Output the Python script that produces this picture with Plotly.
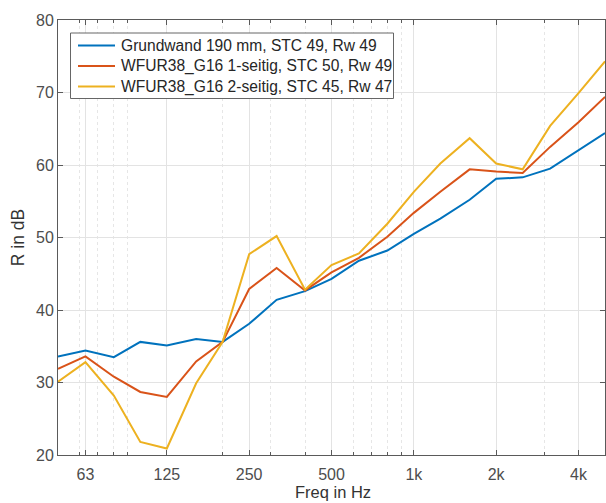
import numpy as np
import plotly.graph_objects as go

freqs = [50, 63, 80, 100, 125, 160, 200, 250, 315, 400, 500, 630, 800, 1000,
         1250, 1600, 2000, 2500, 3150, 4000, 5000]

grundwand = [33.6, 34.4, 33.5, 35.6, 35.1, 36.0, 35.6, 38.1, 41.4, 42.6, 44.3,
             46.8, 48.2, 50.5, 52.6, 55.2, 58.1, 58.3, 59.5, 62.0, 64.4]
einseitig = [31.9, 33.6, 30.8, 28.7, 28.0, 32.9, 35.6, 42.9, 45.8, 42.7, 45.2,
             47.2, 50.1, 53.4, 56.3, 59.4, 59.1, 58.9, 62.5, 65.9, 69.4]
zweiseitig = [30.1, 32.8, 28.2, 21.8, 20.9, 29.9, 35.6, 47.7, 50.2, 42.8, 46.2,
              47.8, 51.9, 56.3, 60.2, 63.7, 60.2, 59.4, 65.4, 69.9, 74.3]

names = ["Grundwand 190 mm, STC 49, Rw 49",
         "WFUR38_G16 1-seitig, STC 50, Rw 49",
         "WFUR38_G16 2-seitig, STC 45, Rw 47"]
colors = ["#0072BD", "#D95319", "#EDB120"]

xtick_vals = [63, 125, 250, 500, 1000, 2000, 4000]
xtick_text = ["63", "125", "250", "500", "1k", "2k", "4k"]
minor_vals = [50, 60, 70, 80, 90, 200, 300, 400, 600, 700, 800, 900, 3000, 5000]
ytick_vals = [20, 30, 40, 50, 60, 70, 80]

W, H = 606, 503
L, R, T, B = 58, 1, 20, 48
pw, ph = W - L - R, H - T - B


def px(x):
    return (x - L) / pw


def py(y):
    return (H - B - y) / ph


fig = go.Figure()
for ys, nm, c in zip([grundwand, einseitig, zweiseitig], names, colors):
    fig.add_trace(go.Scatter(x=freqs, y=ys, mode="lines", name=nm,
                             line=dict(color=c, width=2)))

# legend drawn as box + samples + text
shapes = [dict(type="rect", xref="paper", yref="paper",
               x0=px(70.5), x1=px(393.5), y0=py(98.5), y1=py(33),
               line=dict(color="#666666", width=1), fillcolor="white", layer="above")]
annotations = []
row_y = [45.5, 66, 86.5]
for nm, c, ry in zip(names, colors, row_y):
    shapes.append(dict(type="line", xref="paper", yref="paper",
                       x0=px(78), x1=px(115), y0=py(ry), y1=py(ry),
                       line=dict(color=c, width=2), layer="above"))
    annotations.append(dict(text=nm, xref="paper", yref="paper", x=px(119), y=py(ry),
                            xanchor="left", yanchor="middle", showarrow=False,
                            font=dict(size=15.6, color="#262626")))

# x-axis title, kept inside the page
annotations.append(dict(text="Freq in Hz", xref="paper", yref="paper",
                        x=px(333), y=py(502.5), xanchor="center", yanchor="bottom",
                        showarrow=False, font=dict(size=16.5, color="#333333")))

axcol = "#5a5a5a"
fig.update_layout(
    width=W, height=H,
    margin=dict(l=L, r=R, t=T, b=B),
    paper_bgcolor="white", plot_bgcolor="white",
    font=dict(family="Liberation Sans, Arial, sans-serif", color="#333333"),
    showlegend=False,
    shapes=shapes, annotations=annotations,
)
fig.update_xaxes(
    type="log", range=[np.log10(50), np.log10(5000)], automargin=False,
    tickmode="array", tickvals=xtick_vals, ticktext=xtick_text,
    ticks="inside", ticklen=5, tickcolor=axcol,
    showline=True, linecolor=axcol, linewidth=1, mirror="ticks",
    showgrid=True, gridcolor="#e3e3e3", gridwidth=1,
    tickfont=dict(size=16, color="#4d4d4d"), ticklabelstandoff=5,
    minor=dict(tickmode="array", tickvals=minor_vals, ticks="inside", ticklen=3,
               tickcolor=axcol, showgrid=True, gridcolor="#e6e6e6",
               griddash="dot", gridwidth=1),
    zeroline=False,
)
fig.update_yaxes(
    range=[20, 80], tickmode="array", tickvals=ytick_vals, automargin=False,
    ticks="inside", ticklen=5, tickcolor=axcol,
    showline=True, linecolor=axcol, linewidth=1, mirror="ticks",
    showgrid=True, gridcolor="#e3e3e3", gridwidth=1,
    tickfont=dict(size=16, color="#4d4d4d"),
    title=dict(text="R in dB", font=dict(size=17.5, color="#333333"), standoff=6),
    zeroline=False,
)

fig.write_html("out.html")
